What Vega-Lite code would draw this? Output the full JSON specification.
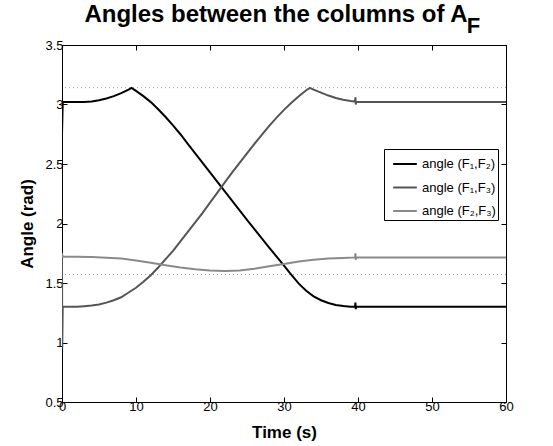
{
  "$schema": "https://vega.github.io/schema/vega-lite/v6.json",
  "autosize": {"type": "none"},
  "padding": {"left": 62, "top": 45, "right": 47, "bottom": 44},
  "width": 444,
  "height": 357,
  "background": "white",
  "title": {"text": "Angles between the columns of A", "fontSize": 24, "font": "Liberation Sans", "fontWeight": "bold", "color": "black", "anchor": "middle", "dx": -8, "baseline": "alphabetic", "offset": -31},
  "config": {
    "view": {"stroke": "black", "strokeWidth": 1},
    "axis": {"grid": false, "domainColor": "black", "tickColor": "black", "tickSize": -5, "labelFont": "Liberation Sans", "labelFontSize": 13, "labelColor": "black", "titleFont": "Liberation Sans", "titleFontSize": 17, "titleFontWeight": "bold", "titleColor": "black", "labelFlush": false, "labelOverlap": false},
    "legend": {"orient": "none", "legendX": 322, "legendY": 104, "strokeColor": "black", "fillColor": "white", "padding": 2, "symbolOffset": 6, "symbolType": "stroke", "symbolStrokeWidth": 2, "symbolSize": 560, "labelFont": "Liberation Sans", "labelFontSize": 13, "labelColor": "black", "rowPadding": 3.5, "labelOffset": 4, "title": null}
  },
  "datasets": {
    "curves": [
      {"t": 0, "v": 2.75, "s": "angle (F₁,F₂)"},
      {"t": 0.1, "v": 3.02, "s": "angle (F₁,F₂)"},
      {"t": 1, "v": 3.02, "s": "angle (F₁,F₂)"},
      {"t": 2, "v": 3.02, "s": "angle (F₁,F₂)"},
      {"t": 3, "v": 3.02, "s": "angle (F₁,F₂)"},
      {"t": 4, "v": 3.025, "s": "angle (F₁,F₂)"},
      {"t": 5, "v": 3.035, "s": "angle (F₁,F₂)"},
      {"t": 6, "v": 3.05, "s": "angle (F₁,F₂)"},
      {"t": 7, "v": 3.07, "s": "angle (F₁,F₂)"},
      {"t": 8, "v": 3.095, "s": "angle (F₁,F₂)"},
      {"t": 9, "v": 3.125, "s": "angle (F₁,F₂)"},
      {"t": 9.4, "v": 3.14, "s": "angle (F₁,F₂)"},
      {"t": 10, "v": 3.115, "s": "angle (F₁,F₂)"},
      {"t": 11, "v": 3.07, "s": "angle (F₁,F₂)"},
      {"t": 12, "v": 3.02, "s": "angle (F₁,F₂)"},
      {"t": 13, "v": 2.96, "s": "angle (F₁,F₂)"},
      {"t": 14, "v": 2.895, "s": "angle (F₁,F₂)"},
      {"t": 15, "v": 2.825, "s": "angle (F₁,F₂)"},
      {"t": 16, "v": 2.75, "s": "angle (F₁,F₂)"},
      {"t": 17, "v": 2.67, "s": "angle (F₁,F₂)"},
      {"t": 18, "v": 2.59, "s": "angle (F₁,F₂)"},
      {"t": 19, "v": 2.51, "s": "angle (F₁,F₂)"},
      {"t": 20, "v": 2.43, "s": "angle (F₁,F₂)"},
      {"t": 21, "v": 2.35, "s": "angle (F₁,F₂)"},
      {"t": 22, "v": 2.27, "s": "angle (F₁,F₂)"},
      {"t": 23, "v": 2.19, "s": "angle (F₁,F₂)"},
      {"t": 24, "v": 2.11, "s": "angle (F₁,F₂)"},
      {"t": 25, "v": 2.03, "s": "angle (F₁,F₂)"},
      {"t": 26, "v": 1.952, "s": "angle (F₁,F₂)"},
      {"t": 27, "v": 1.875, "s": "angle (F₁,F₂)"},
      {"t": 28, "v": 1.798, "s": "angle (F₁,F₂)"},
      {"t": 29, "v": 1.722, "s": "angle (F₁,F₂)"},
      {"t": 30, "v": 1.645, "s": "angle (F₁,F₂)"},
      {"t": 31, "v": 1.568, "s": "angle (F₁,F₂)"},
      {"t": 32, "v": 1.495, "s": "angle (F₁,F₂)"},
      {"t": 33, "v": 1.435, "s": "angle (F₁,F₂)"},
      {"t": 34, "v": 1.388, "s": "angle (F₁,F₂)"},
      {"t": 35, "v": 1.355, "s": "angle (F₁,F₂)"},
      {"t": 36, "v": 1.332, "s": "angle (F₁,F₂)"},
      {"t": 37, "v": 1.316, "s": "angle (F₁,F₂)"},
      {"t": 38, "v": 1.306, "s": "angle (F₁,F₂)"},
      {"t": 39, "v": 1.3, "s": "angle (F₁,F₂)"},
      {"t": 39.6, "v": 1.3, "s": "angle (F₁,F₂)"},
      {"t": 39.65, "v": 1.335, "s": "angle (F₁,F₂)"},
      {"t": 39.7, "v": 1.28, "s": "angle (F₁,F₂)"},
      {"t": 39.75, "v": 1.3, "s": "angle (F₁,F₂)"},
      {"t": 60, "v": 1.3, "s": "angle (F₁,F₂)"},

      {"t": 0, "v": 1.74, "s": "angle (F₁,F₃)"},
      {"t": 0.03, "v": 0.95, "s": "angle (F₁,F₃)"},
      {"t": 0.1, "v": 1.3, "s": "angle (F₁,F₃)"},
      {"t": 1, "v": 1.3, "s": "angle (F₁,F₃)"},
      {"t": 2, "v": 1.3, "s": "angle (F₁,F₃)"},
      {"t": 3, "v": 1.305, "s": "angle (F₁,F₃)"},
      {"t": 4, "v": 1.31, "s": "angle (F₁,F₃)"},
      {"t": 5, "v": 1.32, "s": "angle (F₁,F₃)"},
      {"t": 6, "v": 1.335, "s": "angle (F₁,F₃)"},
      {"t": 7, "v": 1.355, "s": "angle (F₁,F₃)"},
      {"t": 8, "v": 1.38, "s": "angle (F₁,F₃)"},
      {"t": 9, "v": 1.42, "s": "angle (F₁,F₃)"},
      {"t": 10, "v": 1.46, "s": "angle (F₁,F₃)"},
      {"t": 11, "v": 1.51, "s": "angle (F₁,F₃)"},
      {"t": 12, "v": 1.565, "s": "angle (F₁,F₃)"},
      {"t": 13, "v": 1.63, "s": "angle (F₁,F₃)"},
      {"t": 14, "v": 1.7, "s": "angle (F₁,F₃)"},
      {"t": 15, "v": 1.77, "s": "angle (F₁,F₃)"},
      {"t": 16, "v": 1.85, "s": "angle (F₁,F₃)"},
      {"t": 17, "v": 1.93, "s": "angle (F₁,F₃)"},
      {"t": 18, "v": 2.01, "s": "angle (F₁,F₃)"},
      {"t": 19, "v": 2.09, "s": "angle (F₁,F₃)"},
      {"t": 20, "v": 2.175, "s": "angle (F₁,F₃)"},
      {"t": 21, "v": 2.26, "s": "angle (F₁,F₃)"},
      {"t": 22, "v": 2.345, "s": "angle (F₁,F₃)"},
      {"t": 23, "v": 2.43, "s": "angle (F₁,F₃)"},
      {"t": 24, "v": 2.51, "s": "angle (F₁,F₃)"},
      {"t": 25, "v": 2.59, "s": "angle (F₁,F₃)"},
      {"t": 26, "v": 2.67, "s": "angle (F₁,F₃)"},
      {"t": 27, "v": 2.745, "s": "angle (F₁,F₃)"},
      {"t": 28, "v": 2.82, "s": "angle (F₁,F₃)"},
      {"t": 29, "v": 2.89, "s": "angle (F₁,F₃)"},
      {"t": 30, "v": 2.955, "s": "angle (F₁,F₃)"},
      {"t": 31, "v": 3.015, "s": "angle (F₁,F₃)"},
      {"t": 32, "v": 3.07, "s": "angle (F₁,F₃)"},
      {"t": 33, "v": 3.12, "s": "angle (F₁,F₃)"},
      {"t": 33.5, "v": 3.14, "s": "angle (F₁,F₃)"},
      {"t": 34, "v": 3.125, "s": "angle (F₁,F₃)"},
      {"t": 35, "v": 3.1, "s": "angle (F₁,F₃)"},
      {"t": 36, "v": 3.075, "s": "angle (F₁,F₃)"},
      {"t": 37, "v": 3.055, "s": "angle (F₁,F₃)"},
      {"t": 38, "v": 3.04, "s": "angle (F₁,F₃)"},
      {"t": 39, "v": 3.03, "s": "angle (F₁,F₃)"},
      {"t": 39.6, "v": 3.025, "s": "angle (F₁,F₃)"},
      {"t": 39.65, "v": 3.06, "s": "angle (F₁,F₃)"},
      {"t": 39.7, "v": 3.0, "s": "angle (F₁,F₃)"},
      {"t": 39.75, "v": 3.02, "s": "angle (F₁,F₃)"},
      {"t": 60, "v": 3.02, "s": "angle (F₁,F₃)"},

      {"t": 0, "v": 1.75, "s": "angle (F₂,F₃)"},
      {"t": 0.1, "v": 1.72, "s": "angle (F₂,F₃)"},
      {"t": 2, "v": 1.72, "s": "angle (F₂,F₃)"},
      {"t": 4, "v": 1.718, "s": "angle (F₂,F₃)"},
      {"t": 6, "v": 1.713, "s": "angle (F₂,F₃)"},
      {"t": 8, "v": 1.705, "s": "angle (F₂,F₃)"},
      {"t": 10, "v": 1.69, "s": "angle (F₂,F₃)"},
      {"t": 12, "v": 1.67, "s": "angle (F₂,F₃)"},
      {"t": 14, "v": 1.65, "s": "angle (F₂,F₃)"},
      {"t": 16, "v": 1.63, "s": "angle (F₂,F₃)"},
      {"t": 18, "v": 1.615, "s": "angle (F₂,F₃)"},
      {"t": 20, "v": 1.605, "s": "angle (F₂,F₃)"},
      {"t": 22, "v": 1.6, "s": "angle (F₂,F₃)"},
      {"t": 24, "v": 1.605, "s": "angle (F₂,F₃)"},
      {"t": 26, "v": 1.62, "s": "angle (F₂,F₃)"},
      {"t": 28, "v": 1.64, "s": "angle (F₂,F₃)"},
      {"t": 30, "v": 1.66, "s": "angle (F₂,F₃)"},
      {"t": 32, "v": 1.68, "s": "angle (F₂,F₃)"},
      {"t": 34, "v": 1.695, "s": "angle (F₂,F₃)"},
      {"t": 36, "v": 1.705, "s": "angle (F₂,F₃)"},
      {"t": 38, "v": 1.71, "s": "angle (F₂,F₃)"},
      {"t": 39.6, "v": 1.715, "s": "angle (F₂,F₃)"},
      {"t": 39.65, "v": 1.75, "s": "angle (F₂,F₃)"},
      {"t": 39.7, "v": 1.695, "s": "angle (F₂,F₃)"},
      {"t": 39.75, "v": 1.715, "s": "angle (F₂,F₃)"},
      {"t": 60, "v": 1.715, "s": "angle (F₂,F₃)"}
    ],
    "refs": [{"v": 3.14159}, {"v": 1.5708}],
    "sub": [{"t": 55.6, "v": 3.6, "label": "F"}]
  },
  "layer": [
    {
      "data": {"name": "refs"},
      "mark": {"type": "rule", "color": "#9a9a9a", "strokeWidth": 1, "strokeDash": [1, 3]},
      "encoding": {
        "y": {"field": "v", "type": "quantitative", "scale": {"domain": [0.5, 3.5], "nice": false, "zero": false}, "axis": null}
      }
    },
    {
      "data": {"name": "curves"},
      "mark": {"type": "line", "strokeWidth": 2, "clip": true},
      "encoding": {
        "x": {"field": "t", "type": "quantitative", "scale": {"domain": [0, 60], "nice": false, "zero": false},
              "axis": {"orient": "bottom", "title": "Time (s)", "values": [0, 10, 20, 30, 40, 50, 60], "labelPadding": 3, "titlePadding": 11}},
        "y": {"field": "v", "type": "quantitative", "scale": {"domain": [0.5, 3.5], "nice": false, "zero": false},
              "axis": {"orient": "left", "title": "Angle (rad)", "values": [0.5, 1, 1.5, 2, 2.5, 3, 3.5], "format": "~g", "labelPadding": 4, "titlePadding": 8}},
        "color": {"field": "s", "type": "nominal",
                  "scale": {"domain": ["angle (F₁,F₂)", "angle (F₁,F₃)", "angle (F₂,F₃)"], "range": ["#000000", "#555555", "#8a8a8a"]},
                  "legend": {"title": null}}
      }
    },
    {
      "data": {"name": "sub"},
      "mark": {"type": "text", "font": "Liberation Sans", "fontWeight": "bold", "fontSize": 22, "align": "center", "baseline": "alphabetic", "color": "black"},
      "encoding": {
        "x": {"field": "t", "type": "quantitative", "scale": {"domain": [0, 60], "nice": false, "zero": false},
              "axis": {"orient": "top", "title": null, "labels": false, "values": [0, 10, 20, 30, 40, 50, 60]}},
        "y": {"field": "v", "type": "quantitative", "scale": {"domain": [0.5, 3.5], "nice": false, "zero": false},
              "axis": {"orient": "right", "title": null, "labels": false, "values": [0.5, 1, 1.5, 2, 2.5, 3, 3.5]}},
        "text": {"field": "label"}
      }
    }
  ]
}
